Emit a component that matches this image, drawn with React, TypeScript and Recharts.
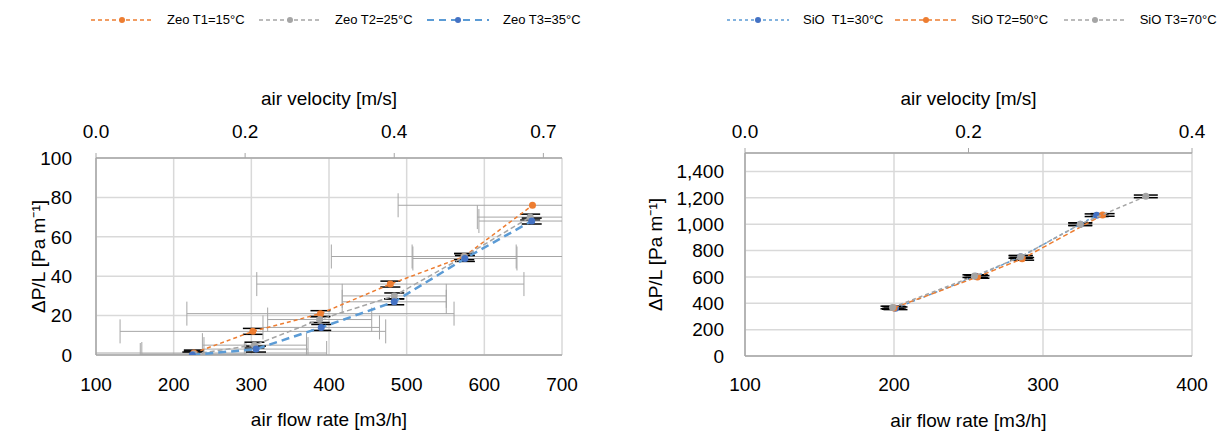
import {
  CartesianGrid,
  ComposedChart,
  ErrorBar,
  Label,
  Legend,
  Scatter,
  XAxis,
  YAxis,
} from "recharts";

// Zeo bed: air flow rate [m3/h] vs pressure drop per length [Pa/m]
const zeoT1Flow = [226, 302, 389, 479, 574, 662];
const zeoT1Dp = [1, 12, 21, 36, 50, 76];
const zeoT1FlowErr = [171, 171, 172, 172, 171, 173];
const zeoT1DpErr = [1.5, 1.5, 1.5, 1.5, 1.5, 0];

const zeoT2Flow = [226, 304, 388, 484, 574, 659];
const zeoT2Dp = [0.5, 5, 18, 30, 50, 70];
const zeoT2FlowErr = [67, 67, 67, 67, 67, 68];
const zeoT2DpErr = [1.5, 1.5, 1.5, 1.5, 1.5, 1.5];

const zeoT3Flow = [224, 306, 390, 484, 575, 661];
const zeoT3Dp = [0, 3, 14, 27, 49, 68];
const zeoT3FlowErr = [67, 67, 75, 67, 67, 68];
const zeoT3DpErr = [1.5, 1.5, 1.5, 1.5, 1.5, 1.5];

// SiO bed
const sioT1Flow = [201, 255, 285, 325, 336];
const sioT1Dp = [362, 605, 752, 1000, 1068];
const sioT2Flow = [200, 256, 286, 340];
const sioT2Dp = [365, 600, 737, 1070];
const sioT3Flow = [199, 254, 285, 325, 369];
const sioT3Dp = [368, 606, 752, 1000, 1211];
const sioDpErr = 10;

// axis ticks
const zeoFlowTicks = [100, 200, 300, 400, 500, 600, 700];
const zeoDpTicks = [0, 20, 40, 60, 80, 100];
const zeoVelTicks = [0, 0.2, 0.4, 0.6];
const zeoVelLabels = ["0.0", "0.2", "0.4", "0.7"];
const sioFlowTicks = [100, 200, 300, 400];
const sioDpTicks = [0, 200, 400, 600, 800, 1000, 1200, 1400];
const sioVelTicks = [0, 0.2, 0.4];
const sioVelLabels = ["0.0", "0.2", "0.4"];

const ORANGE = "#ED7D31";
const GRAY = "#A5A5A5";
const BLUE = "#4472C4";
const LIGHT_BLUE = "#5B9BD5";

const toPoints = (xs: number[], ys: number[], exs: number[] | number, eys: number[] | number) =>
  xs.map((x, i) => ({
    x,
    y: ys[i],
    ex: Array.isArray(exs) ? exs[i] : exs,
    ey: Array.isArray(eys) ? eys[i] : eys,
  }));

const zeoT1 = toPoints(zeoT1Flow, zeoT1Dp, zeoT1FlowErr, zeoT1DpErr);
const zeoT2 = toPoints(zeoT2Flow, zeoT2Dp, zeoT2FlowErr, zeoT2DpErr);
const zeoT3 = toPoints(zeoT3Flow, zeoT3Dp, zeoT3FlowErr, zeoT3DpErr);
const sioT1 = toPoints(sioT1Flow, sioT1Dp, 0, sioDpErr);
const sioT2 = toPoints(sioT2Flow, sioT2Dp, 0, sioDpErr);
const sioT3 = toPoints(sioT3Flow, sioT3Dp, 0, sioDpErr);

// the secondary (top) velocity axis is fed by its own tick rows
const zeoVelRows = zeoVelTicks.map((v) => ({ v }));
const sioVelRows = sioVelTicks.map((v) => ({ v }));

interface LegendItem {
  name: string;
  line: string;
  marker: string;
  dash: string;
  width: number;
}

const zeoLegend: LegendItem[] = [
  { name: "Zeo T1=15°C", line: ORANGE, marker: ORANGE, dash: "4 3", width: 1.5 },
  { name: "Zeo T2=25°C", line: GRAY, marker: GRAY, dash: "4 3", width: 1.5 },
  { name: "Zeo T3=35°C", line: LIGHT_BLUE, marker: BLUE, dash: "7 5", width: 2 },
];

const sioLegend: LegendItem[] = [
  { name: "SiO  T1=30°C", line: LIGHT_BLUE, marker: BLUE, dash: "3 3", width: 1.5 },
  { name: "SiO T2=50°C", line: ORANGE, marker: ORANGE, dash: "5 3", width: 1.5 },
  { name: "SiO T3=70°C", line: GRAY, marker: GRAY, dash: "4 3", width: 1.5 },
];

// layout of the two panels
const ZEO = { w: 620, h: 439, margin: { top: 88, right: 58, bottom: 9, left: 20 }, yW: 76, topH: 70, botH: 75 };
const SIO = { w: 612, h: 439, margin: { top: 88, right: 40, bottom: 8, left: 20 }, yW: 105, topH: 65, botH: 75 };

const plotRect = (p: typeof ZEO) => ({
  x: p.margin.left + p.yW,
  y: p.margin.top + p.topH,
  width: p.w - p.margin.left - p.yW - p.margin.right,
  height: p.h - p.margin.top - p.topH - p.margin.bottom - p.botH,
});

const tickStyle = { fontSize: 19, fill: "#000" };
const labelStyle = { fontSize: 19, fill: "#000" };
const axisStroke = { stroke: "#A6A6A6", strokeWidth: 1.5 };

const dot = (color: string, r: number) => (props: any) =>
  <circle cx={props.cx} cy={props.cy} r={r} fill={color} />;

const LegendRow = ({ items, itemWidth }: { items: LegendItem[]; itemWidth: number }) => (
  <div style={{ display: "flex", alignItems: "center", fontSize: 13, color: "#000" }}>
    {items.map((it) => (
      <div key={it.name} style={{ display: "flex", alignItems: "center", width: itemWidth }}>
        <svg width={62} height={12}>
          <line x1={0} y1={6} x2={62} y2={6} stroke={it.line} strokeWidth={it.width} strokeDasharray={it.dash} />
          <circle cx={31} cy={6} r={3} fill={it.marker} />
        </svg>
        <span style={{ marginLeft: 14, whiteSpace: "pre" }}>{it.name}</span>
      </div>
    ))}
  </div>
);

const ZeoChart = () => (
  <ComposedChart width={ZEO.w} height={ZEO.h} data={zeoVelRows} margin={ZEO.margin} className="zeo">
    <defs>
      <clipPath id="zeo-plot">
        <rect {...plotRect(ZEO)} />
      </clipPath>
    </defs>
    <CartesianGrid xAxisId="flow" yAxisId="dp" stroke="#D9D9D9" strokeWidth={1.5} />
    <XAxis
      xAxisId="flow"
      dataKey="x"
      type="number"
      domain={[100, 700]}
      ticks={zeoFlowTicks}
      interval={0}
      allowDataOverflow
      height={ZEO.botH}
      tickSize={0}
      tickMargin={23}
      axisLine={axisStroke}
      tick={tickStyle}
    >
      <Label value="air flow rate [m3/h]" position="insideBottom" offset={4} style={labelStyle} />
    </XAxis>
    <XAxis
      xAxisId="vel"
      dataKey="v"
      type="number"
      orientation="top"
      domain={[0, 0.625]}
      ticks={zeoVelTicks}
      interval={0}
      tickFormatter={(v: number) => zeoVelLabels[zeoVelTicks.indexOf(v)]}
      allowDataOverflow
      height={ZEO.topH}
      tickSize={5}
      tickMargin={15}
      axisLine={axisStroke}
      tickLine={{ stroke: "#A6A6A6" }}
      tick={tickStyle}
    >
      <Label value="air velocity [m/s]" position="insideTop" offset={4} style={labelStyle} />
    </XAxis>
    <YAxis
      yAxisId="dp"
      dataKey="y"
      type="number"
      domain={[0, 100]}
      ticks={zeoDpTicks}
      interval={0}
      allowDataOverflow
      width={ZEO.yW}
      tickSize={0}
      tickMargin={24}
      axisLine={axisStroke}
      tick={tickStyle}
    >
      <Label
        value="ΔP/L [Pa m⁻¹]"
        angle={-90}
        position="insideLeft"
        offset={18}
        style={{ ...labelStyle, textAnchor: "middle" }}
      />
    </YAxis>
    <Legend
      verticalAlign="middle"
      align="center"
      wrapperStyle={{ top: 12, left: 91, width: 520 }}
      content={() => <LegendRow items={zeoLegend} itemWidth={168} />}
    />
    <Scatter
      xAxisId="flow"
      yAxisId="dp"
      name="Zeo T1=15°C"
      data={zeoT1}
      fill={ORANGE}
      line={{ stroke: ORANGE, strokeWidth: 1.5, strokeDasharray: "4 3" }}
      shape={dot(ORANGE, 3.5)}
      isAnimationActive={false}
    >
      <ErrorBar dataKey="ex" direction="x" stroke="#A6A6A6" width={12} strokeWidth={1} isAnimationActive={false} />
      <ErrorBar dataKey="ey" direction="y" stroke="#000" width={10} strokeWidth={1.5} isAnimationActive={false} />
    </Scatter>
    <Scatter
      xAxisId="flow"
      yAxisId="dp"
      name="Zeo T2=25°C"
      data={zeoT2}
      fill={GRAY}
      line={{ stroke: GRAY, strokeWidth: 1.5, strokeDasharray: "5 3" }}
      shape={dot(GRAY, 3.5)}
      isAnimationActive={false}
    >
      <ErrorBar dataKey="ex" direction="x" stroke="#A6A6A6" width={12} strokeWidth={1} isAnimationActive={false} />
      <ErrorBar dataKey="ey" direction="y" stroke="#000" width={10} strokeWidth={1.5} isAnimationActive={false} />
    </Scatter>
    <Scatter
      xAxisId="flow"
      yAxisId="dp"
      name="Zeo T3=35°C"
      data={zeoT3}
      fill={BLUE}
      line={{ stroke: LIGHT_BLUE, strokeWidth: 2.5, strokeDasharray: "8 5" }}
      shape={dot(BLUE, 3.5)}
      isAnimationActive={false}
    >
      <ErrorBar dataKey="ex" direction="x" stroke="#A6A6A6" width={12} strokeWidth={1} isAnimationActive={false} />
      <ErrorBar dataKey="ey" direction="y" stroke="#000" width={10} strokeWidth={1.5} isAnimationActive={false} />
    </Scatter>
  </ComposedChart>
);

const SioChart = () => (
  <ComposedChart width={SIO.w} height={SIO.h} data={sioVelRows} margin={SIO.margin} className="sio">
    <defs>
      <clipPath id="sio-plot">
        <rect {...plotRect(SIO)} />
      </clipPath>
    </defs>
    <CartesianGrid xAxisId="flow" yAxisId="dp" stroke="#D9D9D9" strokeWidth={1.5} />
    <XAxis
      xAxisId="flow"
      dataKey="x"
      type="number"
      domain={[100, 400]}
      ticks={sioFlowTicks}
      interval={0}
      allowDataOverflow
      height={SIO.botH}
      tickSize={0}
      tickMargin={22}
      axisLine={axisStroke}
      tick={tickStyle}
    >
      <Label value="air flow rate [m3/h]" position="insideBottom" offset={4} style={labelStyle} />
    </XAxis>
    <XAxis
      xAxisId="vel"
      dataKey="v"
      type="number"
      orientation="top"
      domain={[0, 0.4]}
      ticks={sioVelTicks}
      interval={0}
      tickFormatter={(v: number) => sioVelLabels[sioVelTicks.indexOf(v)]}
      allowDataOverflow
      height={SIO.topH}
      tickSize={5}
      tickMargin={10}
      axisLine={axisStroke}
      tickLine={{ stroke: "#A6A6A6" }}
      tick={tickStyle}
    >
      <Label value="air velocity [m/s]" position="insideTop" offset={4} style={labelStyle} />
    </XAxis>
    <YAxis
      yAxisId="dp"
      dataKey="y"
      type="number"
      domain={[0, 1540]}
      ticks={sioDpTicks}
      interval={0}
      tickFormatter={(v: number) => v.toLocaleString("en-US")}
      allowDataOverflow
      width={SIO.yW}
      tickSize={0}
      tickMargin={21}
      axisLine={axisStroke}
      tick={tickStyle}
    >
      <Label
        value="ΔP/L [Pa m⁻¹]"
        angle={-90}
        position="insideLeft"
        offset={15}
        style={{ ...labelStyle, textAnchor: "middle" }}
      />
    </YAxis>
    <Legend
      verticalAlign="middle"
      align="center"
      wrapperStyle={{ top: 12, left: 107, width: 505 }}
      content={() => <LegendRow items={sioLegend} itemWidth={176} />}
    />
    <Scatter
      xAxisId="flow"
      yAxisId="dp"
      name="SiO  T1=30°C"
      data={sioT1}
      fill={BLUE}
      line={{ stroke: LIGHT_BLUE, strokeWidth: 1.5, strokeDasharray: "3 3" }}
      shape={dot(BLUE, 3.5)}
      isAnimationActive={false}
    >
      <ErrorBar dataKey="ey" direction="y" stroke="#000" width={12} strokeWidth={1.5} isAnimationActive={false} />
    </Scatter>
    <Scatter
      xAxisId="flow"
      yAxisId="dp"
      name="SiO T2=50°C"
      data={sioT2}
      fill={ORANGE}
      line={{ stroke: ORANGE, strokeWidth: 1.5, strokeDasharray: "5 3" }}
      shape={dot(ORANGE, 3.5)}
      isAnimationActive={false}
    >
      <ErrorBar dataKey="ey" direction="y" stroke="#000" width={12} strokeWidth={1.5} isAnimationActive={false} />
    </Scatter>
    <Scatter
      xAxisId="flow"
      yAxisId="dp"
      name="SiO T3=70°C"
      data={sioT3}
      fill={GRAY}
      line={{ stroke: GRAY, strokeWidth: 1.5, strokeDasharray: "4 3" }}
      shape={dot(GRAY, 3.5)}
      isAnimationActive={false}
    >
      <ErrorBar dataKey="ey" direction="y" stroke="#000" width={12} strokeWidth={1.5} isAnimationActive={false} />
    </Scatter>
  </ComposedChart>
);

export default function App() {
  return (
    <div
      style={{
        position: "absolute",
        left: 0,
        top: 0,
        width: 1232,
        height: 439,
        background: "#fff",
        fontFamily: "'Liberation Sans', Arial, sans-serif",
      }}
    >
      {/* error bars are cut at the plot frame, as in the spreadsheet original */}
      <style>{`
        .zeo .recharts-errorBars { clip-path: url(#zeo-plot); }
        .sio .recharts-errorBars { clip-path: url(#sio-plot); }
      `}</style>
      <div style={{ position: "absolute", left: 0, top: 0 }}>
        <ZeoChart />
      </div>
      <div style={{ position: "absolute", left: 620, top: 0 }}>
        <SioChart />
      </div>
    </div>
  );
}
